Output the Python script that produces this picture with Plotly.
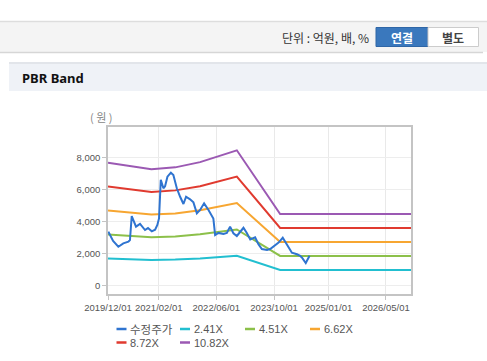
import plotly.graph_objects as go

W, H = 487, 361

# ---------------- data ----------------
price_dates = [
    "2019-12-04", "2020-01-13", "2020-02-26", "2020-04-08", "2020-05-21", "2020-06-03",
    "2020-06-18", "2020-07-24", "2020-08-27", "2020-10-08", "2020-11-02", "2020-12-04",
    "2021-01-01", "2021-01-20", "2021-02-03", "2021-02-18", "2021-03-12", "2021-03-26",
    "2021-04-15", "2021-05-14", "2021-06-04", "2021-07-03", "2021-07-31", "2021-08-28",
    "2021-09-19", "2021-10-23", "2021-11-20", "2021-12-19", "2022-01-15", "2022-02-18",
    "2022-03-27", "2022-04-25", "2022-05-07", "2022-05-22", "2022-06-19", "2022-07-31",
    "2022-08-29", "2022-09-25", "2022-10-23", "2022-11-21", "2022-12-19", "2023-01-16",
    "2023-02-13", "2023-03-14", "2023-04-24", "2023-05-22", "2023-06-20", "2023-08-02",
    "2023-08-29", "2023-09-26", "2023-11-08", "2023-12-13", "2024-01-17", "2024-02-28",
    "2024-04-11", "2024-05-08", "2024-05-25", "2024-06-24", "2024-07-26",
]
price_values = [
    3380, 2800, 2440, 2650, 2760, 2860,
    4350, 3690, 3860, 3480, 3600, 3400,
    3500, 3800, 4200, 6600, 6080, 6200,
    6800, 7050, 6900, 6080, 5550, 5100,
    5550, 5390, 5200, 4520, 4730, 5140,
    4730, 4410, 4200, 3170, 3300, 3240,
    3300, 3690, 3280, 3110, 3380, 3620,
    3300, 2900, 3030, 2600, 2300, 2240,
    2300, 2440, 2700, 3000, 2600, 2070,
    1970, 1870, 1750, 1430, 1880,
]

band_dates = ["2019-12-01", "2020-12-01", "2021-06-20", "2022-01-15",
              "2022-11-21", "2023-11-21", "2026-11-28"]
band_241 = [1709, 1617, 1644, 1716, 1880, 998, 998]
band_451 = [3198, 3026, 3076, 3211, 3518, 1867, 1867]
band_662 = [4694, 4442, 4515, 4713, 5164, 2741, 2741]
band_872 = [6182, 5851, 5947, 6209, 6802, 3610, 3610]
band_1082 = [7671, 7260, 7379, 7704, 8440, 4479, 4479]

series_names = ["수정주가", "2.41X", "4.51X", "6.62X", "8.72X", "10.82X"]
series_colors = ["#2f74d0", "#22bfd0", "#8cc04a", "#f7a631", "#e03a2f", "#9b59b3"]

x_tickvals = ["2019-12-01", "2021-02-01", "2022-06-01", "2023-10-01", "2025-01-01", "2026-05-01"]
x_ticktext = ["2019/12/01", "2021/02/01", "2022/06/01", "2023/10/01", "2025/01/01", "2026/05/01"]
y_tickvals = [0, 2000, 4000, 6000, 8000]
y_ticktext = ["0", "2,000", "4,000", "6,000", "8,000"]

# ---------------- figure ----------------
def X(px):
    return px / W

def Y(py):
    return 1 - py / H

fig = go.Figure()
band_data = [band_241, band_451, band_662, band_872, band_1082]
for i, vals in enumerate(band_data):
    fig.add_trace(go.Scatter(x=band_dates, y=vals, mode="lines", name=series_names[i + 1],
                             line=dict(color=series_colors[i + 1], width=2),
                             showlegend=False))
fig.add_trace(go.Scatter(x=price_dates, y=price_values, mode="lines", name=series_names[0],
                         line=dict(color=series_colors[0], width=2),
                         showlegend=False))

tick_font = dict(family="Liberation Sans, Arial, sans-serif", size=9.5, color="#555555")
kfont = "Noto Sans CJK KR, sans-serif"

fig.update_layout(
    template="none",
    width=W, height=H,
    margin=dict(l=0, r=0, t=0, b=0),
    paper_bgcolor="white", plot_bgcolor="white",
    showlegend=False,
    hovermode=False,
    xaxis=dict(domain=[X(108), X(411)], type="date",
               range=["2019-12-01", "2026-11-28"],
               tickvals=x_tickvals, ticktext=x_ticktext, tickfont=tick_font,
               showgrid=True, gridcolor="#e9e9e9", gridwidth=1,
               showline=True, linecolor="#c4c4c4", linewidth=1.5, mirror=True,
               ticks="outside", ticklen=4, tickcolor="#c4c4c4",
               automargin=False, zeroline=False, fixedrange=True),
    yaxis=dict(domain=[Y(294), Y(127)], range=[-500, 9890],
               tickvals=y_tickvals, ticktext=y_ticktext, tickfont=tick_font,
               showgrid=True, gridcolor="#ededed", gridwidth=1,
               showline=True, linecolor="#c4c4c4", linewidth=1.5, mirror=True,
               ticks="outside", ticklen=4, tickcolor="#c4c4c4",
               automargin=False, zeroline=False, fixedrange=True),
)

shapes = []
annotations = []
# top header bar
shapes.append(dict(type="rect", xref="paper", yref="paper", x0=X(0), x1=X(487), y0=Y(52), y1=Y(21),
                   fillcolor="#f4f4f4", line=dict(width=0), layer="below"))
shapes.append(dict(type="line", xref="paper", yref="paper", x0=X(0), x1=X(487), y0=Y(21.5), y1=Y(21.5),
                   line=dict(color="#dddddd", width=1.5)))
shapes.append(dict(type="line", xref="paper", yref="paper", x0=X(0), x1=X(483), y0=Y(52.5), y1=Y(52.5),
                   line=dict(color="#d6d6d6", width=1.5)))
# buttons
shapes.append(dict(type="rect", xref="paper", yref="paper", x0=X(376), x1=X(428), y0=Y(46.5), y1=Y(27.5),
                   fillcolor="#3a78bd", line=dict(color="#2f66a6", width=1)))
shapes.append(dict(type="rect", xref="paper", yref="paper", x0=X(428), x1=X(478.5), y0=Y(46.5), y1=Y(27.5),
                   fillcolor="#ffffff", line=dict(color="#cccccc", width=1)))
annotations.append(dict(text="단위 : 억원, 배, %", xref="paper", yref="paper", x=X(371), y=Y(37.5),
                        xanchor="right", yanchor="middle", showarrow=False,
                        font=dict(family=kfont, size=12, color="#333333")))
annotations.append(dict(text="<b>연결</b>", xref="paper", yref="paper", x=X(402), y=Y(37),
                        xanchor="center", yanchor="middle", showarrow=False,
                        font=dict(family=kfont, size=12, color="#ffffff")))
annotations.append(dict(text="<b>별도</b>", xref="paper", yref="paper", x=X(453), y=Y(37),
                        xanchor="center", yanchor="middle", showarrow=False,
                        font=dict(family=kfont, size=12, color="#444444")))
# section title bar
shapes.append(dict(type="rect", xref="paper", yref="paper", x0=X(9), x1=X(487), y0=Y(91), y1=Y(62),
                   fillcolor="#eff2f7", line=dict(width=0), layer="below"))
shapes.append(dict(type="line", xref="paper", yref="paper", x0=X(9), x1=X(487), y0=Y(63), y1=Y(63),
                   line=dict(color="#e2e5ea", width=2)))
annotations.append(dict(text="<b>PBR Band</b>", xref="paper", yref="paper", x=X(20), y=Y(77.5),
                        xanchor="left", yanchor="middle", showarrow=False,
                        font=dict(family="Noto Sans, Liberation Sans, sans-serif", size=13, color="#111111")))
# unit label
annotations.append(dict(text="( 원 )", xref="paper", yref="paper", x=X(101), y=Y(116.5),
                        xanchor="center", yanchor="middle", showarrow=False,
                        font=dict(family=kfont, size=11, color="#888888")))

# manual legend
legend_pos = [(116.5, 329), (180, 329), (245, 329), (310, 329), (116.5, 342.5), (180, 342.5)]
for k in range(len(series_names)):
    lx, ly = legend_pos[k]
    shapes.append(dict(type="line", xref="paper", yref="paper", x0=X(lx), x1=X(lx + 10),
                       y0=Y(ly), y1=Y(ly), line=dict(color=series_colors[k], width=2.5)))
    annotations.append(dict(text=series_names[k], xref="paper", yref="paper", x=X(lx + 12.5), y=Y(ly),
                            xanchor="left", yanchor="middle", showarrow=False, borderpad=0,
                            font=dict(family=kfont if k == 0 else "Liberation Sans, Arial, sans-serif",
                                      size=11.5 if k == 0 else 11, color="#555555")))

fig.update_layout(shapes=shapes, annotations=annotations)
fig.write_html("out.html", config={"displayModeBar": False},
               post_script="document.body.style.margin='0';")
